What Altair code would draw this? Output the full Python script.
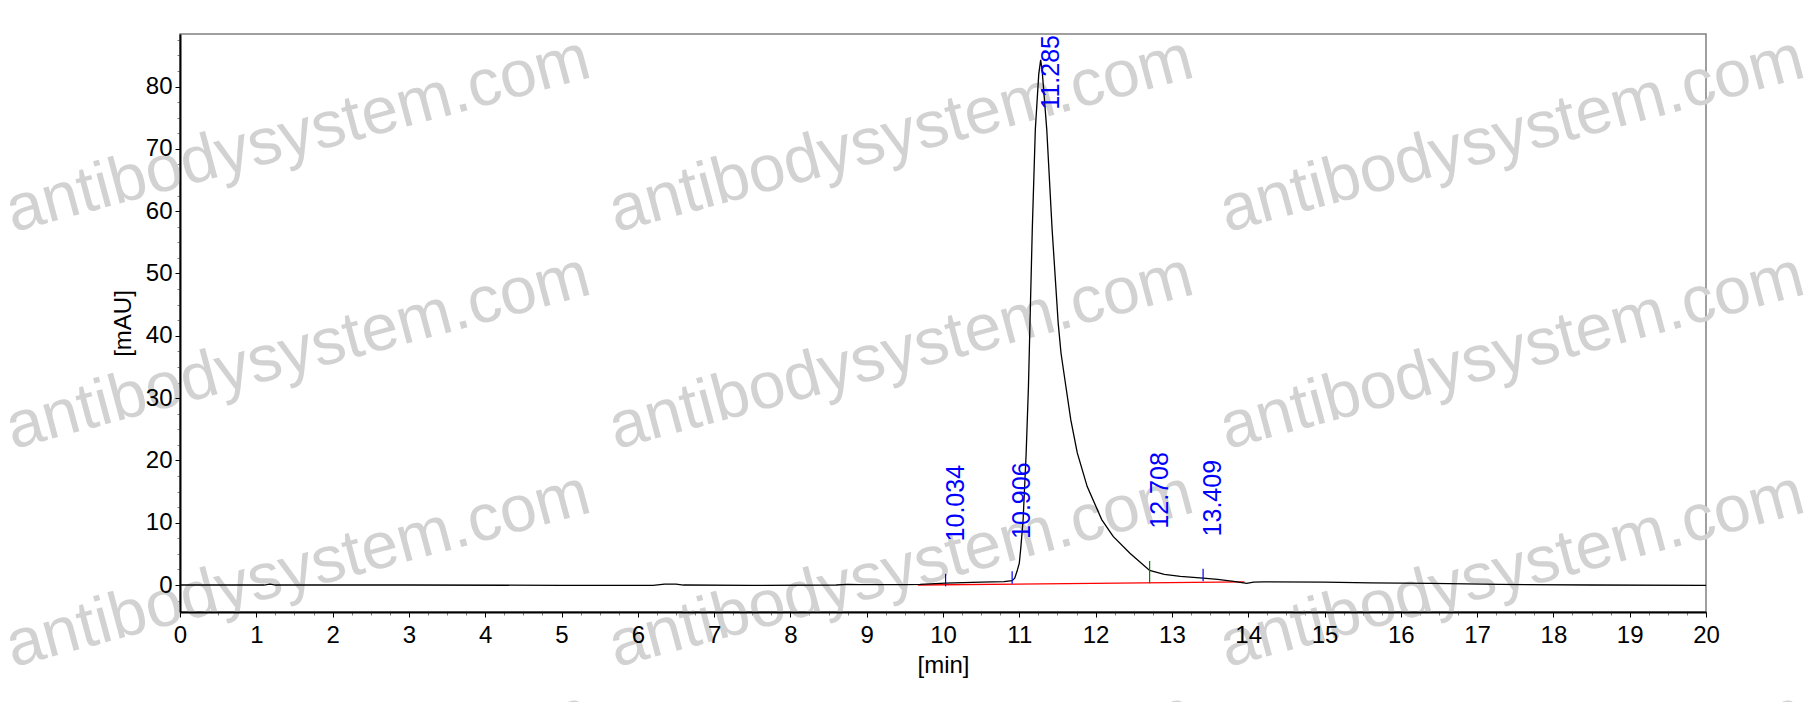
import altair as alt
import pandas as pd

# ---------------- data ----------------
time_min = [0.0, 1.1, 1.18, 1.25, 3.0, 5.0, 6.2, 6.35, 6.5, 6.6, 7.5, 8.6, 8.75,
            8.9, 9.5, 9.7, 10.034, 10.5, 10.8, 10.906, 10.94, 10.97, 11.0, 11.02,
            11.05, 11.09, 11.12, 11.14, 11.17, 11.21, 11.255, 11.28, 11.30, 11.36,
            11.43, 11.51, 11.547, 11.61, 11.675, 11.76, 11.89, 12.08, 12.23, 12.45,
            12.708, 12.9, 13.11, 13.409, 13.6, 13.81, 13.98, 14.07, 14.2, 15.0,
            15.6, 16.4, 17.3, 18.5, 20.0]
signal_mau = [0.0, 0.0, 0.15, 0.0, 0.0, -0.05, -0.05, 0.15, 0.15, 0.0, -0.05, 0.0,
              0.1, 0.05, 0.05, 0.1, 0.3, 0.45, 0.55, 0.7, 1.1, 2.2, 3.5, 6.0,
              10.5, 21.2, 31.9, 42.0, 57.0, 73.1, 82.0, 84.3, 82.5, 73.1,
              57.1, 42.0, 37.2, 31.9, 26.5, 21.2, 15.8, 10.5, 7.8, 5.1,
              2.35, 1.7, 1.4, 1.1, 0.9, 0.6, 0.25, 0.45, 0.5, 0.45,
              0.35, 0.25, 0.1, 0.0, -0.05]

baseline_time = [9.67, 13.95]
baseline_mau = [0.0, 0.5]

peak_rt = [10.034, 10.906, 11.285, 12.708, 13.409]
peak_height = [0.3, 0.7, 84.3, 2.35, 1.1]
peak_label = ["10.034", "10.906", "11.285", "12.708", "13.409"]
peak_tick_color = ["#0000ff", "#0000ff", "#0000ff", "#008000", "#0000ff"]

x_ticks = list(range(0, 21))
y_ticks = list(range(0, 90, 10))
x_minor = [i * 0.25 for i in range(81)]
y_minor = [-2.5 + 2.5 * i for i in range(37)]

watermark_text = "antibodysystem.com"

# ---------------- tables ----------------
curve = pd.DataFrame({"t": time_min, "v": signal_mau})
base = pd.DataFrame({"t": baseline_time, "v": baseline_mau})
peaks = pd.DataFrame({
    "t": peak_rt,
    "h": peak_height,
    "label": peak_label,
    "c": peak_tick_color,
})
peaks["ly"] = [min(h + 6.7, 76.3) for h in peak_height]
peaks["lo"] = [h - 0.5 for h in peak_height]
peaks["hi"] = [h + 1.5 for h in peak_height]
peaks.loc[peaks["label"] == "12.708", "lo"] = 0.3
ticks_df = peaks[peaks["label"] != "11.285"]

FONT = "Liberation Sans"
xs = alt.Scale(domain=[0, 20], nice=False, zero=False)
ys = alt.Scale(domain=[-4.33, 88.44], nice=False, zero=False)

# ---------------- watermark layers ----------------
wm_layers = []
for cx in [118, 721, 1332]:
    for cy in [101, 318, 536, 756]:
        wm_layers.append(
            alt.Chart(alt.Data(values=[{"w": watermark_text}]))
            .mark_text(font=FONT, fontSize=66, color="#d2d2d2", angle=345,
                       align="center", baseline="middle")
            .encode(x=alt.value(cx), y=alt.value(cy), text="w:N")
        )

# ---------------- main marks ----------------
line = alt.Chart(curve).mark_line(color="black", strokeWidth=1.3).encode(
    x=alt.X("t:Q", scale=xs, axis=alt.Axis(
        values=x_ticks, orient="bottom", tickSize=5, tickColor="black",
        domainColor="black", domainWidth=2, labelFontSize=24, labelFont=FONT,
        labelColor="black", labelPadding=6, labelFlush=False, grid=False,
        title="[min]", titleFont=FONT, titleFontSize=24, titleFontWeight="normal",
        titleColor="black", titlePadding=6, zindex=1)),
    y=alt.Y("v:Q", scale=ys, axis=alt.Axis(
        values=y_ticks, orient="left", tickSize=5, tickColor="black",
        domainColor="black", domainWidth=2, labelFontSize=24, labelFont=FONT,
        labelColor="black", labelPadding=3, labelFlush=False, grid=False,
        format="d", title="[mAU]", titleFont=FONT, titleFontSize=24,
        titleFontWeight="normal", titleColor="black", titlePadding=10, zindex=1)),
)

red = alt.Chart(base).mark_line(color="#ff0000", strokeWidth=1.3).encode(
    x=alt.X("t:Q", scale=xs, axis=alt.Axis(
        values=x_minor, orient="bottom", tickSize=3, tickColor="#808080",
        labels=False, domain=False, grid=False, title=None)),
    y=alt.Y("v:Q", scale=ys, axis=alt.Axis(
        values=y_minor, orient="left", tickSize=3, tickColor="#808080",
        labels=False, domain=False, grid=False, title=None)),
)

pticks = alt.Chart(ticks_df).mark_rule(strokeWidth=1.2).encode(
    x=alt.X("t:Q", scale=xs, axis=None),
    y=alt.Y("lo:Q", scale=ys, axis=None),
    y2="hi:Q",
    color=alt.Color("c:N", scale=None, legend=None),
)

labels = alt.Chart(peaks).mark_text(
    font=FONT, fontSize=25, color="#0000ff", angle=270, align="left",
    baseline="top", dy=-2
).encode(
    x=alt.X("t:Q", scale=xs, axis=None),
    y=alt.Y("ly:Q", scale=ys, axis=None),
    text="label:N",
)

chart = alt.layer(*wm_layers, red, line, pticks, labels).resolve_axis(
    x="independent", y="independent"
).properties(
    width=1526, height=578,
    autosize=alt.AutoSizeParams(type="none"),
    padding={"left": 172, "top": 26, "right": 100, "bottom": 90},
    background="white",
).configure_view(stroke="#808080", strokeWidth=1.5)

chart.save("out.html", embed_options={"renderer": "svg", "actions": False})
